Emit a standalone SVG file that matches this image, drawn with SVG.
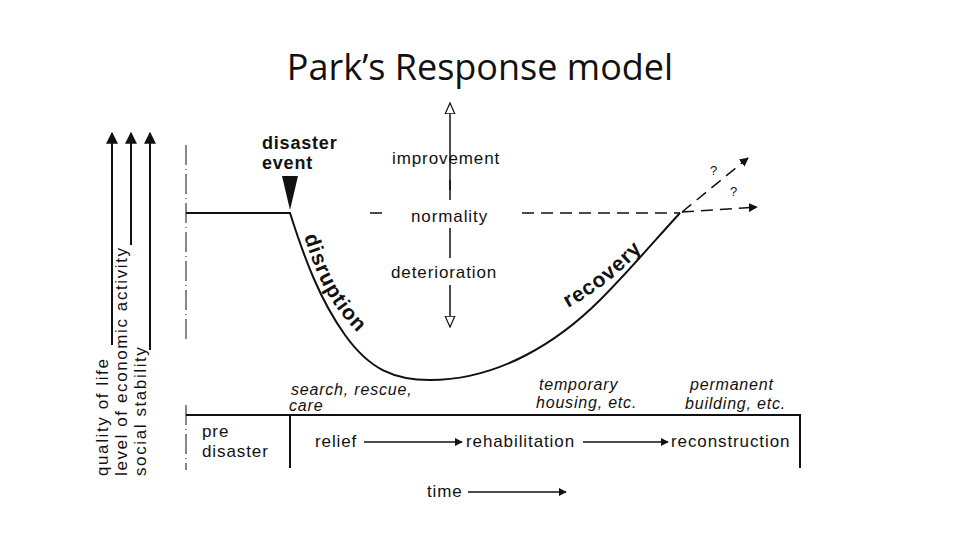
<svg xmlns="http://www.w3.org/2000/svg" width="960" height="540" viewBox="0 0 960 540">
<style>
text{font-family:"Liberation Sans",Arial,sans-serif;fill:#111}
.t{font-size:17px;letter-spacing:0.9px}
.a{font-size:17px;letter-spacing:1.6px}
.i{font-size:16px;font-style:italic;letter-spacing:0.8px}
.b{font-size:18px;font-weight:bold;letter-spacing:0.8px}
.ln{stroke:#111;stroke-width:2;fill:none}
.d{stroke:#111;stroke-width:1.5;fill:none;stroke-dasharray:12 7}
</style>
<defs>
<marker id="ah" viewBox="0 0 10 10" refX="9" refY="5" markerWidth="6" markerHeight="6" orient="auto"><path d="M0,0L10,5L0,10z" fill="#111"/></marker>
<marker id="oh" viewBox="0 0 10 10" refX="9" refY="5" markerWidth="8" markerHeight="8" orient="auto"><path d="M0,1L9,5L0,9z" fill="#fff" stroke="#111"/></marker>
<path id="dp" d="M304,236 C318,280 330,305 360,335"/>
<path id="rp" d="M568,308 C595,293 615,278 640,252"/>
</defs>
<text x="480" y="80" text-anchor="middle" style="font-family:'Open Sans','Liberation Sans',sans-serif;font-size:36px">Park’s Response model</text>
<g id="axes">
<line class="ln" x1="112" y1="345" x2="112" y2="133" marker-end="url(#ah)"/>
<line class="ln" x1="131" y1="245" x2="131" y2="133" marker-end="url(#ah)"/>
<line class="ln" x1="150" y1="350" x2="150" y2="133" marker-end="url(#ah)"/>
<text class="a" transform="translate(108,476) rotate(-90)">quality of life</text>
<text class="a" transform="translate(127,476) rotate(-90)">level of economic activity</text>
<text class="a" transform="translate(146,476) rotate(-90)">social stability</text>
<line x1="186" y1="145" x2="186" y2="340" stroke="#111" stroke-dasharray="20 4 1 4"/>
<line x1="186" y1="405" x2="186" y2="470" stroke="#111" stroke-dasharray="20 4 1 4"/>
</g>
<g id="curve">
<path class="ln" d="M186,213 H290 C305,260 320,300 345,335 C370,370 395,380 430,380 C500,380 560,340 600,300 C630,270 655,240 680,213"/>
<line class="d" x1="370" y1="213" x2="680" y2="213"/>
<line class="d" x1="682" y1="212" x2="748" y2="158" stroke-width="2.5" marker-end="url(#ah)"/>
<line class="d" x1="682" y1="212" x2="757" y2="207" stroke-width="2.5" marker-end="url(#ah)"/>
<text x="710" y="175" style="font-size:13px">?</text>
<text x="730" y="196" style="font-size:13px">?</text>
<text style="font-size:21px;font-weight:bold;letter-spacing:1px"><textPath href="#dp">disruption</textPath></text>
<text style="font-size:21px;font-weight:bold;letter-spacing:1px"><textPath href="#rp">recovery</textPath></text>
</g>
<g id="event">
<text class="b" x="262" y="149">disaster</text>
<text class="b" x="262" y="169">event</text>
<path d="M282,176H298L290,210z" fill="#111"/>
</g>
<g id="scale">
<line x1="450" y1="190" x2="450" y2="103" stroke="#111" stroke-width="1.5" marker-end="url(#oh)"/>
<line x1="450" y1="180" x2="450" y2="258" stroke="#111" stroke-width="1.5"/>
<line x1="450" y1="285" x2="450" y2="327" stroke="#111" stroke-width="1.5" marker-end="url(#oh)"/>
<rect x="385" y="200" width="130" height="28" fill="#fff"/>
<rect x="385" y="262" width="130" height="20" fill="#fff"/>
<text class="t" x="392" y="164">improvement</text>
<text class="t" x="411" y="222">normality</text>
<text class="t" x="391" y="278">deterioration</text>
</g>
<g id="phases">
<text class="i" x="291" y="395">search, rescue,</text>
<text class="i" x="289" y="411">care</text>
<text class="i" x="539" y="390">temporary</text>
<text class="i" x="536" y="408">housing, etc.</text>
<text class="i" x="690" y="390">permanent</text>
<text class="i" x="685" y="409">building, etc.</text>
<line x1="186" y1="415" x2="801" y2="415" stroke="#111" stroke-width="2"/>
<line x1="290" y1="415" x2="290" y2="468" stroke="#111" stroke-width="2"/>
<line x1="800" y1="415" x2="800" y2="468" stroke="#111" stroke-width="2"/>
<text class="t" x="202" y="437">pre</text>
<text class="t" x="202" y="457">disaster</text>
<text class="t" x="315" y="447">relief</text>
<line x1="364" y1="442" x2="462" y2="442" stroke="#111" stroke-width="1.3" marker-end="url(#ah)"/>
<text class="t" x="466" y="447">rehabilitation</text>
<line x1="583" y1="442" x2="668" y2="442" stroke="#111" stroke-width="1.3" marker-end="url(#ah)"/>
<text class="t" x="671" y="447">reconstruction</text>
<text class="t" x="427" y="497">time</text>
<line x1="468" y1="492" x2="566" y2="492" stroke="#111" stroke-width="1.3" marker-end="url(#ah)"/>
</g>
</svg>
